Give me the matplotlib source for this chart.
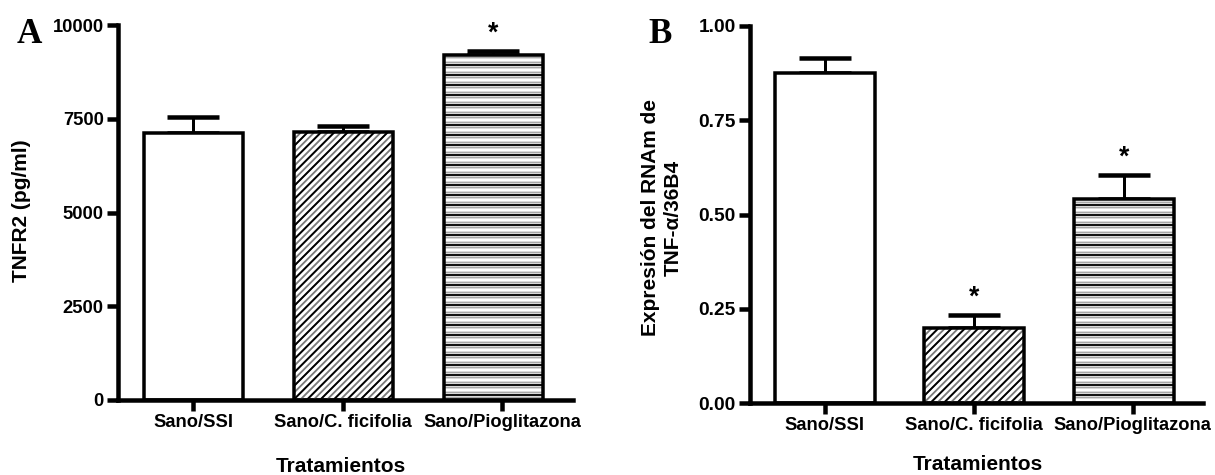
import numpy as np
import matplotlib
matplotlib.use("Agg")
import matplotlib.pyplot as plt

# data
groups = ["Sano/SSI", "Sano/C. ficifolia", "Sano/Pioglitazona"]

tnfr2_mean = [7130, 7160, 9210]
tnfr2_sem = [430, 160, 90]
tnfr2_sig = [False, False, True]

tnf_mean = [0.875, 0.198, 0.542]
tnf_sem = [0.040, 0.035, 0.062]
tnf_sig = [False, True, True]

W, H, DPI = 1215, 475, 120
plt.rcParams['font.family'] = ['Liberation Sans', 'DejaVu Sans']
plt.rcParams['font.weight'] = 'bold'
plt.rcParams['hatch.linewidth'] = 1.1

fig = plt.figure(figsize=(W / DPI, H / DPI), dpi=DPI)

def ax_px(x0, x1, y_top, y_bot):
    # axes rectangle from pixel coords of the picture
    return [x0 / W, 1 - y_bot / H, (x1 - x0) / W, (y_bot - y_top) / H]

def fig_px(x, y):
    return x / W, 1 - y / H

# (light hatch, light colour, dark hatch) per bar
hatches = [None, ("//////", "#7a7a7a", "///"), ("----", "#a8a8a8", "--")]

def draw_panel(ax, means, sems, sig, width, ytop, yticks, fmt, tick_fs):
    x = np.arange(len(means))
    ax.errorbar(x, means, yerr=[np.zeros(len(sems)), sems], fmt='none',
                ecolor='black', elinewidth=1.8, capsize=15.5, capthick=2.7,
                zorder=1)
    ax.bar(x, means, width, color='white', linewidth=0, zorder=2)
    for i, h in enumerate(hatches):
        if h is None:
            continue
        light, lc, dark = h
        ax.bar(x[i], means[i], width, color='none', edgecolor=lc,
               hatch=light, linewidth=0, zorder=3)
        ax.bar(x[i], means[i], width, color='none', edgecolor='black',
               hatch=dark, linewidth=0, zorder=3)
    ax.bar(x, means, width, fill=False, edgecolor='black', linewidth=2.1,
           zorder=4)
    for i in range(len(means)):
        if sig[i]:
            ax.annotate('*', (x[i], means[i] + sems[i]), xytext=(0, 3),
                        textcoords='offset points', ha='center', va='bottom',
                        fontsize=16, fontweight='bold')
    ax.set_xlim(-0.5, 2.53)
    ax.set_ylim(0, ytop)
    ax.set_yticks(yticks)
    ax.set_yticklabels([fmt % v for v in yticks])
    ax.set_xticks([0, 1, 2.06])
    ax.set_xticklabels(groups)
    for s in ['top', 'right']:
        ax.spines[s].set_visible(False)
    for s in ['left', 'bottom']:
        ax.spines[s].set_linewidth(2.7)
    ax.tick_params(axis='y', length=6.6, width=2.7, pad=2, labelsize=tick_fs)
    ax.tick_params(axis='x', length=6.6, width=2.7, pad=2, labelsize=11)
    for lab in ax.get_xticklabels() + ax.get_yticklabels():
        lab.set_fontweight('bold')

# panel A
axA = fig.add_axes(ax_px(118, 573, 25, 400))
draw_panel(axA, tnfr2_mean, tnfr2_sem, tnfr2_sig, 0.66, 10000,
           [0, 2500, 5000, 7500, 10000], "%d", 11)
fig.text(*fig_px(22, 211), "TNFR2 (pg/ml)", rotation=90, ha='center',
         va='center', fontsize=12.5, fontweight='bold')
fig.text(*fig_px(341, 467), "Tratamientos", ha='center', va='center',
         fontsize=12.5, fontweight='bold')
fig.text(*fig_px(17, 43), "A", ha='left', va='baseline', fontsize=21,
         fontweight='bold', family='Liberation Serif')

# panel B
axB = fig.add_axes(ax_px(750, 1203, 26, 403))
draw_panel(axB, tnf_mean, tnf_sem, tnf_sig, 0.67, 1.0,
           [0, 0.25, 0.5, 0.75, 1.0], "%.2f", 11.5)
fig.text(*fig_px(662, 218), "Expresión del RNAm de\nTNF-α/36B4", rotation=90,
         ha='center', va='center', multialignment='center', fontsize=12.5,
         fontweight='bold', linespacing=1.2)
fig.text(*fig_px(978, 464), "Tratamientos", ha='center', va='center',
         fontsize=12.5, fontweight='bold')
fig.text(*fig_px(648, 43), "B", ha='left', va='baseline', fontsize=21,
         fontweight='bold', family='Liberation Serif')

fig.savefig("out.png", dpi=DPI, facecolor='white')
